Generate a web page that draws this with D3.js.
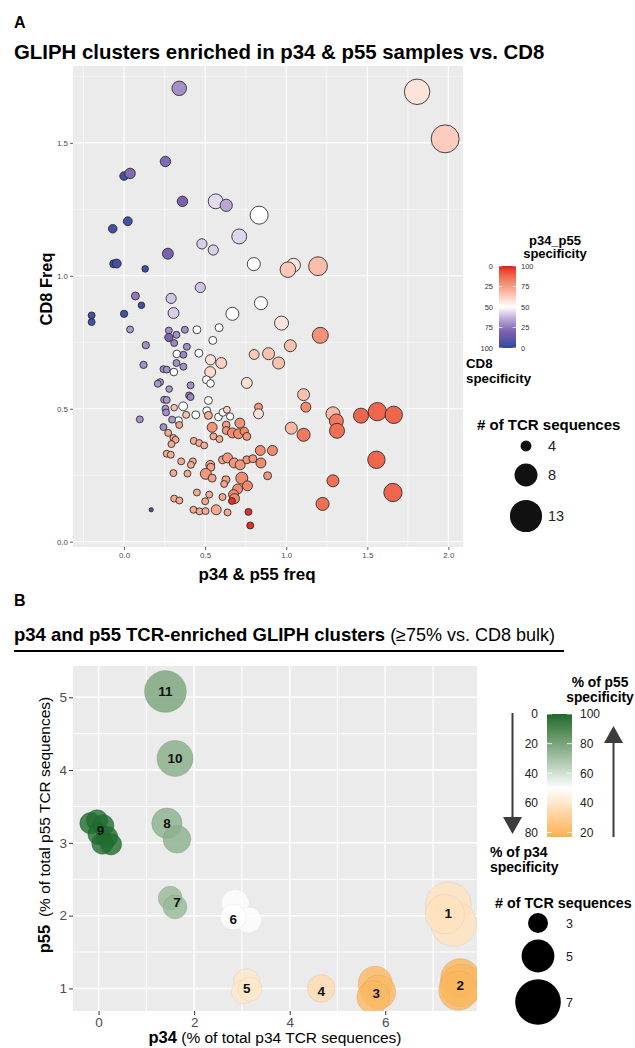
<!DOCTYPE html>
<html>
<head>
<meta charset="utf-8">
<script src="https://cdn.jsdelivr.net/npm/d3@7"></script>
<style>
body { margin: 0; background: #fff; }
text { font-family: "Liberation Sans", Arial, sans-serif; }
</style>
</head>
<body>
<div class="canvas"></div>
<script>
// ---------- panel A data (one value per GLIPH cluster) ----------
const freqP34P55 = [0.34,0.255,0.0,0.037,0.36,0.565,0.63,0.023,-0.07,0.48,0.55,0.71,0.27,-0.064,-0.045,0.13,0.47,0.29,0.07,0.107,
  1.807,1.98,0.833,0.80,1.045,1.01,1.196,0.844,0.305,0.668,-0.2,-0.2,0.0,0.037,0.134,0.12,0.276,0.323,0.276,0.375,
  0.309,0.387,0.325,0.366,0.449,0.586,0.547,0.461,0.533,0.599,0.323,0.366,0.243,0.263,0.307,0.531,0.222,0.208,0.278,0.41,
  0.508,0.533,0.757,0.401,0.41,0.247,0.263,0.52,0.255,0.309,0.364,0.097,0.259,0.335,0.296,0.383,0.442,0.51,0.52,0.582,
  0.609,0.634,0.654,0.63,0.714,0.543,0.34,0.243,0.272,0.304,0.317,0.292,0.551,0.588,0.63,0.668,0.706,0.741,0.757,0.43,
  0.463,0.494,0.263,0.288,0.352,0.424,0.412,0.531,0.535,0.607,0.638,0.679,0.716,0.757,0.304,0.391,0.504,0.543,0.628,0.726,
  0.761,0.617,0.70,0.449,0.525,0.675,0.681,0.607,0.309,0.341,0.50,0.665,0.167,0.428,0.465,0.502,0.568,0.638,0.767,0.778,
  0.971,1.21,1.025,0.802,0.891,0.953,1.107,1.121,0.829,0.829,1.288,1.309,1.313,1.461,1.562,1.663,1.031,1.107,0.84,0.915,
  0.794,0.844,0.885,1.556,1.288,1.658,1.224];
const freqCD8 = [1.705,1.43,1.375,1.385,1.28,1.28,1.265,1.205,1.177,1.12,1.097,1.148,1.083,1.045,1.046,1.026,0.956,0.915,0.924,0.889,
  1.692,1.515,1.228,1.044,1.04,1.023,1.036,0.897,0.86,0.857,0.851,0.826,0.857,0.798,0.739,0.665,0.794,0.778,0.768,0.797,
  0.747,0.733,0.706,0.703,0.797,0.805,0.757,0.709,0.684,0.672,0.672,0.658,0.649,0.647,0.638,0.638,0.60,0.594,0.574,0.588,
  0.609,0.595,0.597,0.55,0.544,0.534,0.533,0.531,0.50,0.504,0.509,0.46,0.486,0.455,0.459,0.477,0.477,0.492,0.475,0.469,
  0.486,0.496,0.471,0.439,0.446,0.43,0.439,0.431,0.409,0.39,0.383,0.367,0.396,0.386,0.418,0.409,0.406,0.415,0.396,0.379,
  0.371,0.362,0.331,0.327,0.302,0.302,0.289,0.289,0.28,0.308,0.315,0.296,0.289,0.308,0.258,0.256,0.255,0.239,0.233,0.239,
  0.21,0.217,0.198,0.185,0.177,0.177,0.162,0.168,0.162,0.155,0.152,0.153,0.12,0.12,0.114,0.115,0.12,0.11,0.112,0.061,
  0.822,0.776,0.737,0.704,0.707,0.672,0.553,0.506,0.506,0.481,0.481,0.454,0.417,0.474,0.489,0.477,0.427,0.402,0.343,0.343,
  0.312,0.296,0.248,0.308,0.229,0.185,0.142];
const specP34P55 = [30,22,5,22,20,44,35,5,5,42,42,43,20,5,5,5,40,40,25,5,
  57,63,50,50,57,64,67,50,42,50,5,5,5,32,30,30,30,30,20,30,
  28,30,50,28,50,50,50,50,58,62,30,30,30,30,50,60,32,32,32,30,
  50,50,58,28,28,32,32,50,32,66,50,30,30,50,32,66,50,50,72,50,
  50,62,50,75,78,78,74,30,72,72,72,72,72,72,77,80,80,80,77,72,
  72,72,72,72,72,72,72,74,74,74,77,77,77,77,72,72,77,74,74,80,
  80,74,80,72,72,80,80,72,72,72,72,98,5,72,72,72,72,72,98,98,
  57,78,66,64,66,66,66,80,77,58,68,84,86,88,88,88,68,84,80,80,
  77,80,77,88,86,88,86];
const nTcrA = [4.9,3.9,3.55,3.9,3.9,5.0,4.3,3.6,3.55,3.85,3.85,5.0,4.0,3.45,3.6,3.25,3.85,3.85,3.45,3.25,
  9.2,10.5,6.0,4.5,4.7,5.2,6.3,4.5,4.0,4.5,3.3,3.3,3.35,3.3,3.35,3.35,3.3,3.3,3.5,3.3,
  3.3,3.3,3.4,3.3,3.45,3.45,3.45,3.45,3.85,4.0,3.3,3.3,3.3,3.3,3.4,4.0,3.3,3.3,3.25,3.3,
  3.45,3.4,4.0,3.3,3.3,3.3,3.3,3.45,3.3,3.25,3.6,3.3,3.3,3.45,3.3,3.3,3.45,3.45,3.45,3.4,
  3.4,3.3,3.35,3.4,3.8,3.8,3.3,3.3,3.3,3.3,3.3,3.3,3.3,3.3,3.45,3.8,3.8,3.5,3.45,3.3,
  3.3,3.3,3.3,3.3,3.3,3.3,3.3,3.6,3.45,3.45,3.8,3.8,3.8,3.45,3.3,3.3,4.0,3.45,3.45,4.24,
  3.8,3.3,3.8,3.3,3.3,3.8,3.8,3.3,3.3,3.3,3.3,3.3,3.0,3.3,3.3,3.3,3.8,3.3,3.3,3.3,
  4.75,5.34,4.24,3.8,4.24,4.24,4.24,3.8,3.45,3.8,4.75,4.75,5.03,5.03,6.1,5.8,4.24,4.5,3.8,3.8,
  3.45,3.8,3.45,5.8,4.24,6.1,4.5];

const ticksAX = [0, 0.5, 1, 1.5, 2];
const ticksAY = [0, 0.5, 1, 1.5];
const specBreaks = [0, 25, 50, 75, 100];
const sizeBreaksA = [4, 8, 13];

// ---------- panel B data (one value per TCR pattern, grouped in clusters) ----------
const clusterB = [1,1,1, 2,2,2, 3,3,3, 4, 5,5,5, 6,6,6, 7,7, 8,8, 9,9,9,9,9,9,9, 10, 11];
const p34B = [7.32,7.43,7.25, 7.57,7.59,7.53, 5.79,5.86,5.75, 4.66, 3.10,3.03,3.17, 2.86,3.14,2.82, 1.50,1.60, 1.43,1.64,
  -0.17,-0.03,0.10,0.0,0.18,0.26,0.08, 1.60, 1.40];
const p55B = [2.15,1.89,2.02, 1.14,1.04,0.97, 1.07,0.95,0.88, 1.0, 1.09,0.95,0.99, 2.17,1.94,1.98, 2.24,2.12, 3.27,3.05,
  3.27,3.31,3.24,3.12,3.08,2.98,2.99, 4.16, 5.08];
const nTcrB = [7,7,6, 6,6.5,6, 5.2,5.2,5, 4.2, 4,3.6,3.6, 4.2,3.9,3.9, 3.6,3.6, 4.6,4.2,
  3.2,3.2,3.2,3.2,3.2,3.2,3.2, 5.5, 6.4];
const clusterIds = [1,2,3,4,5,6,7,8,9,10,11];
const specP55 = [38,20,21,35,40,50,73,76,99,77,80];
const labelP34 = [7.32,7.57,5.81,4.66,3.10,2.82,1.64,1.43,0.04,1.60,1.40];
const labelP55 = [2.03,1.05,0.94,0.96,1.00,1.95,2.19,3.27,3.18,4.16,5.08];
const specLimitsB = [17, 100];

const ticksBX = [0, 2, 4, 6];
const ticksBY = [1, 2, 3, 4, 5];
const p55Breaks = [100, 80, 60, 40, 20];
const sizeBreaksB = [3, 5, 7];

// ---------- setup ----------
const svg = d3.select('.canvas')
    .append('svg')
        .attr('width', 635)
        .attr('height', 1048);

const panelBg = '#EBEBEB';
const tickCol = '#4D4D4D';

// titles
svg.append('text').attr('x', 14).attr('y', 28).attr('font-size', 16).attr('font-weight', 'bold').text('A');
svg.append('text').attr('x', 14).attr('y', 59).attr('font-size', 20.4).attr('font-weight', 'bold')
    .text('GLIPH clusters enriched in p34 & p55 samples vs. CD8');

// ---------- panel A ----------
const pa = {left: 73, top: 66, width: 390, height: 481};
const xA = d3.scaleLinear().domain([-0.315, 2.09]).range([0, pa.width]);
const yA = d3.scaleLinear().domain([-0.02, 1.789]).range([pa.height, 0]);
const colorA = d3.scaleLinear()
    .domain([0, 20, 35, 50, 75, 100])
    .range(['#2B4A9E', '#7A62B0', '#B9A6D6', '#FFFFFF', '#F39E84', '#E41A1C'])
    .interpolate(d3.interpolateLab);
const sizeA = d3.scaleRadial().domain([3, 13]).range([2.1, 16.1]);

const gA = svg.append('g').attr('transform', `translate(${pa.left}, ${pa.top})`);
gA.append('rect').attr('width', pa.width).attr('height', pa.height).attr('fill', panelBg);

const minorAX = [-0.25, 0.25, 0.75, 1.25, 1.75];
const minorAY = [0.25, 0.75, 1.25, 1.75];
gA.selectAll('.vminor').data(minorAX).enter().append('line')
    .attr('x1', d => xA(d)).attr('x2', d => xA(d)).attr('y1', 0).attr('y2', pa.height)
    .attr('stroke', '#fff').attr('stroke-width', 0.5);
gA.selectAll('.hminor').data(minorAY).enter().append('line')
    .attr('y1', d => yA(d)).attr('y2', d => yA(d)).attr('x1', 0).attr('x2', pa.width)
    .attr('stroke', '#fff').attr('stroke-width', 0.5);
gA.selectAll('.vmajor').data(ticksAX).enter().append('line')
    .attr('x1', d => xA(d)).attr('x2', d => xA(d)).attr('y1', 0).attr('y2', pa.height)
    .attr('stroke', '#fff').attr('stroke-width', 1.1);
gA.selectAll('.hmajor').data(ticksAY).enter().append('line')
    .attr('y1', d => yA(d)).attr('y2', d => yA(d)).attr('x1', 0).attr('x2', pa.width)
    .attr('stroke', '#fff').attr('stroke-width', 1.1);

// points
gA.append('defs').append('clipPath').attr('id', 'clipA')
    .append('rect').attr('width', pa.width).attr('height', pa.height);
const ptsA = gA.append('g').attr('clip-path', 'url(#clipA)');
ptsA.selectAll('circle')
    .data(d3.range(freqP34P55.length))
    .enter()
    .append('circle')
        .attr('cx', i => xA(freqP34P55[i]))
        .attr('cy', i => yA(freqCD8[i]))
        .attr('r', i => sizeA(nTcrA[i]))
        .attr('fill', i => colorA(specP34P55[i]))
        .attr('stroke', '#262626')
        .attr('stroke-width', 0.85);

// axes A
const xAxisA = d3.axisBottom(xA).tickValues(ticksAX).tickFormat(d3.format('.1f')).tickSize(3).tickPadding(2);
const yAxisA = d3.axisLeft(yA).tickValues(ticksAY).tickFormat(d3.format('.1f')).tickSize(3).tickPadding(2);
const xAxisGroupA = gA.append('g').attr('transform', `translate(0, ${pa.height})`).call(xAxisA);
const yAxisGroupA = gA.append('g').call(yAxisA);
[xAxisGroupA, yAxisGroupA].forEach(ax => {
    ax.select('.domain').remove();
    ax.attr('font-family', null).attr('font-size', 8);
    ax.selectAll('line').attr('stroke', '#333').attr('stroke-width', 0.8);
    ax.selectAll('text').attr('fill', tickCol);
});

svg.append('text').attr('x', 257).attr('y', 580).attr('text-anchor', 'middle')
    .attr('font-size', 17).attr('font-weight', 'bold').text('p34 & p55 freq');
svg.append('text').attr('transform', 'translate(52, 289) rotate(-90)').attr('text-anchor', 'middle')
    .attr('font-size', 16.4).attr('font-weight', 'bold').text('CD8 Freq');

// legend A: colour bar
const barA = {x: 499, y: 266, w: 17, h: 82};
const yBarA = d3.scaleLinear().domain([0, 100]).range([barA.y + barA.h, barA.y]);
const defs = svg.append('defs');
const gradA = defs.append('linearGradient').attr('id', 'gradA')
    .attr('x1', 0).attr('y1', 1).attr('x2', 0).attr('y2', 0);
gradA.selectAll('stop').data(d3.range(0, 101, 5)).enter().append('stop')
    .attr('offset', d => d + '%').attr('stop-color', d => colorA(d));
svg.append('rect').attr('x', barA.x).attr('y', barA.y).attr('width', barA.w).attr('height', barA.h)
    .attr('fill', 'url(#gradA)');
specBreaks.forEach(b => {
    const yy = yBarA(b);
    svg.append('line').attr('x1', barA.x).attr('x2', barA.x + 3.4).attr('y1', yy).attr('y2', yy).attr('stroke', '#fff').attr('stroke-width', 0.7);
    svg.append('line').attr('x1', barA.x + barA.w - 3.4).attr('x2', barA.x + barA.w).attr('y1', yy).attr('y2', yy).attr('stroke', '#fff').attr('stroke-width', 0.7);
    svg.append('text').attr('x', barA.x + barA.w + 5).attr('y', yy).attr('dy', '0.35em')
        .attr('font-size', 7.5).attr('fill', '#333').text(b);
    svg.append('text').attr('x', barA.x - 6).attr('y', yy).attr('dy', '0.35em').attr('text-anchor', 'end')
        .attr('font-size', 7.5).attr('fill', '#333').text(100 - b);
});
svg.append('text').attr('x', 555).attr('y', 245).attr('text-anchor', 'middle').attr('font-size', 13).attr('font-weight', 'bold').text('p34_p55');
svg.append('text').attr('x', 555).attr('y', 258).attr('text-anchor', 'middle').attr('font-size', 13).attr('font-weight', 'bold').text('specificity');
svg.append('text').attr('x', 466).attr('y', 368).attr('font-size', 13.3).attr('font-weight', 'bold').text('CD8');
svg.append('text').attr('x', 466).attr('y', 383).attr('font-size', 13.3).attr('font-weight', 'bold').text('specificity');

// legend A: sizes
svg.append('text').attr('x', 477).attr('y', 430).attr('font-size', 15).attr('font-weight', 'bold').text('# of TCR sequences');
const sizeKeyYA = [446, 475, 516];
sizeBreaksA.forEach((v, i) => {
    svg.append('circle').attr('cx', 526).attr('cy', sizeKeyYA[i]).attr('r', sizeA(v)).attr('fill', '#111');
    svg.append('text').attr('x', 548).attr('y', sizeKeyYA[i]).attr('dy', '0.36em').attr('font-size', 14.5).attr('fill', '#222').text(v);
});

// ---------- panel B ----------
svg.append('text').attr('x', 14).attr('y', 606).attr('font-size', 16).attr('font-weight', 'bold').text('B');
const titleB = svg.append('text').attr('x', 14).attr('y', 641).attr('font-size', 18.5);
titleB.append('tspan').attr('font-weight', 'bold').text('p34 and p55 TCR-enriched GLIPH clusters');
titleB.append('tspan').attr('font-size', 18).text(' (\u226575% vs. CD8 bulk)');
svg.append('line').attr('x1', 14).attr('x2', 564).attr('y1', 651).attr('y2', 651).attr('stroke', '#000').attr('stroke-width', 2);

const pb = {left: 73, top: 666, width: 404, height: 345};
const xB = d3.scaleLinear().domain([-0.535, 7.92]).range([0, pb.width]);
const yB = d3.scaleLinear().domain([0.69, 5.43]).range([pb.height, 0]);
const colorB = d3.scaleLinear()
    .domain([specLimitsB[0], 50, specLimitsB[1]])
    .range(['#F8B04E', '#FFFFFF', '#1A6A2B'])
    .interpolate(d3.interpolateLab);
const sizeB = d3.scaleLinear().domain([3, 7]).range([10, 22.8]);

const gB = svg.append('g').attr('transform', `translate(${pb.left}, ${pb.top})`);
gB.append('rect').attr('width', pb.width).attr('height', pb.height).attr('fill', panelBg);
const minorBX = [1, 3, 5, 7];
const minorBY = [1.5, 2.5, 3.5, 4.5];
gB.selectAll('.vminor').data(minorBX).enter().append('line')
    .attr('x1', d => xB(d)).attr('x2', d => xB(d)).attr('y1', 0).attr('y2', pb.height)
    .attr('stroke', '#fff').attr('stroke-width', 1.1);
gB.selectAll('.hminor').data(minorBY).enter().append('line')
    .attr('y1', d => yB(d)).attr('y2', d => yB(d)).attr('x1', 0).attr('x2', pb.width)
    .attr('stroke', '#fff').attr('stroke-width', 1.1);
gB.selectAll('.vmajor').data(ticksBX).enter().append('line')
    .attr('x1', d => xB(d)).attr('x2', d => xB(d)).attr('y1', 0).attr('y2', pb.height)
    .attr('stroke', '#fff').attr('stroke-width', 1.5);
gB.selectAll('.hmajor').data(ticksBY).enter().append('line')
    .attr('y1', d => yB(d)).attr('y2', d => yB(d)).attr('x1', 0).attr('x2', pb.width)
    .attr('stroke', '#fff').attr('stroke-width', 1.5);

gB.append('defs').append('clipPath').attr('id', 'clipB')
    .append('rect').attr('width', pb.width).attr('height', pb.height);
const ptsB = gB.append('g').attr('clip-path', 'url(#clipB)');
const specOf = c => specP55[clusterIds.indexOf(c)];
ptsB.selectAll('circle')
    .data(d3.range(p34B.length))
    .enter()
    .append('circle')
        .attr('cx', i => xB(p34B[i]))
        .attr('cy', i => yB(p55B[i]))
        .attr('r', i => sizeB(nTcrB[i]))
        .attr('fill', i => colorB(specOf(clusterB[i])))
        .attr('fill-opacity', 0.8)
        .attr('stroke', i => d3.color(colorB(specOf(clusterB[i]))).darker(0.35))
        .attr('stroke-opacity', 0.5)
        .attr('stroke-width', 0.8);
ptsB.selectAll('text')
    .data(clusterIds)
    .enter()
    .append('text')
        .attr('x', (d, i) => xB(labelP34[i]))
        .attr('y', (d, i) => yB(labelP55[i]))
        .attr('dy', '0.36em')
        .attr('text-anchor', 'middle')
        .attr('font-size', 13.5)
        .attr('font-weight', 'bold')
        .attr('fill', '#111')
        .text(d => d);

const xAxisB = d3.axisBottom(xB).tickValues(ticksBX).tickFormat(d3.format('d')).tickSize(4).tickPadding(2);
const yAxisB = d3.axisLeft(yB).tickValues(ticksBY).tickFormat(d3.format('d')).tickSize(4).tickPadding(2);
const xAxisGroupB = gB.append('g').attr('transform', `translate(0, ${pb.height})`).call(xAxisB);
const yAxisGroupB = gB.append('g').call(yAxisB);
[xAxisGroupB, yAxisGroupB].forEach(ax => {
    ax.select('.domain').remove();
    ax.attr('font-family', null).attr('font-size', 13.5);
    ax.selectAll('line').attr('stroke', '#333').attr('stroke-width', 1);
    ax.selectAll('text').attr('fill', tickCol);
});

const xTitleB = svg.append('text').attr('x', 275).attr('y', 1043).attr('text-anchor', 'middle');
xTitleB.append('tspan').attr('font-size', 16.5).attr('font-weight', 'bold').text('p34');
xTitleB.append('tspan').attr('font-size', 15.5).text(' (% of total p34 TCR sequences)');
const yTitleB = svg.append('text').attr('transform', 'translate(50, 825) rotate(-90)').attr('text-anchor', 'middle');
yTitleB.append('tspan').attr('font-size', 16.5).attr('font-weight', 'bold').text('p55');
yTitleB.append('tspan').attr('font-size', 15.5).text('\u2002(% of total p55 TCR sequences)');

// legend B: colour bar
const barB = {x: 547, y: 714, w: 25, h: 123};
const yBarB = d3.scaleLinear().domain(specLimitsB).range([barB.y + barB.h, barB.y]);
const gradB = defs.append('linearGradient').attr('id', 'gradB')
    .attr('x1', 0).attr('y1', 1).attr('x2', 0).attr('y2', 0);
gradB.selectAll('stop').data(d3.range(0, 1.001, 0.05)).enter().append('stop')
    .attr('offset', d => (d * 100) + '%')
    .attr('stop-color', d => colorB(specLimitsB[0] + d * (specLimitsB[1] - specLimitsB[0])));
svg.append('rect').attr('x', barB.x).attr('y', barB.y).attr('width', barB.w).attr('height', barB.h)
    .attr('fill', 'url(#gradB)');
p55Breaks.forEach(b => {
    const yy = yBarB(b);
    svg.append('line').attr('x1', barB.x).attr('x2', barB.x + 5).attr('y1', yy).attr('y2', yy).attr('stroke', '#fff').attr('stroke-width', 0.8);
    svg.append('line').attr('x1', barB.x + barB.w - 5).attr('x2', barB.x + barB.w).attr('y1', yy).attr('y2', yy).attr('stroke', '#fff').attr('stroke-width', 0.8);
    svg.append('text').attr('x', barB.x + barB.w + 8).attr('y', yy).attr('dy', '0.36em')
        .attr('font-size', 12).attr('fill', '#222').text(b);
    svg.append('text').attr('x', barB.x - 9).attr('y', yy).attr('dy', '0.36em').attr('text-anchor', 'end')
        .attr('font-size', 12).attr('fill', '#222').text(100 - b);
});
svg.append('text').attr('x', 600).attr('y', 687).attr('text-anchor', 'middle').attr('font-size', 13.8).attr('font-weight', 'bold').text('% of p55');
svg.append('text').attr('x', 600).attr('y', 702).attr('text-anchor', 'middle').attr('font-size', 13.8).attr('font-weight', 'bold').text('specificity');
svg.append('text').attr('x', 490).attr('y', 857).attr('font-size', 14).attr('font-weight', 'bold').text('% of p34');
svg.append('text').attr('x', 490).attr('y', 872).attr('font-size', 14).attr('font-weight', 'bold').text('specificity');

// arrows
const arrowCol = '#3C3C3C';
svg.append('line').attr('x1', 512.5).attr('x2', 512.5).attr('y1', 713).attr('y2', 820).attr('stroke', arrowCol).attr('stroke-width', 2);
svg.append('path').attr('d', 'M503,817 L522,817 L512.5,834 Z').attr('fill', arrowCol);
svg.append('line').attr('x1', 613.5).attr('x2', 613.5).attr('y1', 837).attr('y2', 740).attr('stroke', arrowCol).attr('stroke-width', 2);
svg.append('path').attr('d', 'M604,743 L623,743 L613.5,726 Z').attr('fill', arrowCol);

// legend B: sizes
svg.append('text').attr('x', 495).attr('y', 908).attr('font-size', 14.3).attr('font-weight', 'bold').text('# of TCR sequences');
const sizeKeyYB = [923, 956, 1002];
sizeBreaksB.forEach((v, i) => {
    svg.append('circle').attr('cx', 538).attr('cy', sizeKeyYB[i]).attr('r', sizeB(v)).attr('fill', '#000');
    svg.append('text').attr('x', 566).attr('y', sizeKeyYB[i]).attr('dy', '0.36em').attr('font-size', 12.5).attr('fill', '#222').text(v);
});
</script>
</body>
</html>
